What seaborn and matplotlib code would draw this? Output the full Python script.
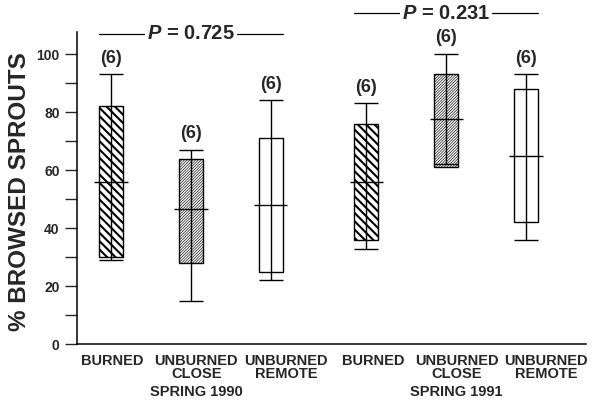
import matplotlib
matplotlib.use("Agg")
import numpy as np
import pandas as pd
import seaborn as sns
import matplotlib.pyplot as plt
import matplotlib.transforms as mtransforms
from matplotlib.ticker import MultipleLocator

# ---------------- data ----------------
treatments = ["BURNED", "UNBURNED\nCLOSE", "UNBURNED\nREMOTE"]
seasons = ["SPRING 1990", "SPRING 1991"]
whisker_low = [29, 15, 22, 33, 62, 36]
box_low = [30, 28, 25, 36, 61, 42]
medians = [56, 46.5, 48, 56, 77.5, 65]
box_high = [82, 64, 71, 76, 93, 88]
whisker_high = [93, 67, 84, 83, 100, 93]
n_obs = [6, 6, 6, 6, 6, 6]
p_values = ["0.725", "0.231"]

# ---------------- layout / style ----------------
group_gap = 0.2
box_width = 0.3
median_width = 0.42
label_shift = [0.02, 0.07, 0.19, 0.09, 0.13, 0.25]
hatch_of = {"BURNED": "\\" * 4, "UNBURNED\nCLOSE": "/" * 12, "UNBURNED\nREMOTE": ""}
hatch_lw = {"BURNED": 1.5, "UNBURNED\nCLOSE": 0.45, "UNBURNED\nREMOTE": 0.5}

sns.set_style("ticks")
plt.rcParams["font.family"] = ["Liberation Sans", "DejaVu Sans"]
plt.rcParams["font.weight"] = "bold"
plt.rcParams["mathtext.fontset"] = "custom"
plt.rcParams["mathtext.bfit"] = "Liberation Sans:italic:bold"
plt.rcParams["mathtext.rm"] = "Liberation Sans:bold"
plt.rcParams["mathtext.it"] = "Liberation Sans:italic:bold"

labels = treatments * 2
positions = [g * (3 + group_gap) + i for g in range(2) for i in range(3)]

rows = []
for pos, lo, med, hi in zip(positions, box_low, medians, box_high):
    for v in (lo, lo, med, hi, hi):
        rows.append({"pos": pos, "value": v})
df = pd.DataFrame(rows)

fig = plt.figure(figsize=(5.95, 4.01), dpi=100)
ax = fig.add_axes([77 / 595, 1 - 344.3 / 401, (586 - 77) / 595, (344.3 - 32) / 401])

sns.boxplot(data=df, x="pos", y="value", native_scale=True, width=box_width,
            whis=0, showfliers=False, showcaps=False, color="white",
            linecolor="black", linewidth=1.0, medianprops={"visible": False}, ax=ax)

boxes = [p for p in ax.patches]
for patch, lab in zip(boxes, labels):
    patch.set_facecolor("white")
    patch.set_edgecolor("black")
    patch.set_hatch(hatch_of[lab])
    if hasattr(patch, "set_hatch_linewidth"):
        patch.set_hatch_linewidth(hatch_lw[lab])

pos = np.array(positions, dtype=float)
ax.vlines(pos, whisker_low, whisker_high, color="black", lw=1.0, zorder=4)
ax.hlines(whisker_high, pos - box_width / 2, pos + box_width / 2, color="black", lw=1.0, zorder=4)
ax.hlines(whisker_low, pos - box_width / 2, pos + box_width / 2, color="black", lw=1.0, zorder=4)
ax.hlines(medians, pos - median_width / 2, pos + median_width / 2, color="black", lw=1.0, zorder=4)

for x, top, n in zip(pos, whisker_high, n_obs):
    ax.annotate(f"({n})", (x, top), xytext=(0, 5.5), textcoords="offset points",
                ha="center", va="bottom", fontsize=13, fontweight="bold")

for g, pv in enumerate(p_values):
    gp = pos[3 * g:3 * g + 3]
    ytop = max(whisker_high[3 * g:3 * g + 3]) + 14
    ax.plot([gp[0] - box_width / 2, gp[-1] + box_width / 2], [ytop, ytop],
            color="black", lw=0.9, clip_on=False, zorder=5)
    ax.text(gp[1], ytop, r"$\mathbfit{P}$ = " + pv, ha="center", va="center",
            fontsize=14.5, fontweight="bold", clip_on=False, zorder=6,
            bbox=dict(facecolor="white", edgecolor="none", pad=1.5))

ax.set_xlim(-0.425, 5.95)
ax.set_ylim(0, 107.6)
ax.yaxis.set_major_locator(MultipleLocator(20))
ax.yaxis.set_minor_locator(MultipleLocator(10))
ax.tick_params(axis="y", which="both", length=8.6, width=1.0, pad=4, labelsize=10)
for t in ax.get_yticklabels():
    t.set_fontweight("bold")

tick_x = [p + s for p, s in zip(positions, label_shift)]
ax.set_xticks(tick_x)
ax.set_xticklabels(labels, fontweight="bold", fontsize=10.5, linespacing=0.92)
ax.tick_params(axis="x", length=0, pad=7)
ax.set_xlabel("")
ax.set_ylabel("")

trans = mtransforms.blended_transform_factory(ax.transData, ax.transAxes)
for g, s in enumerate(seasons):
    ax.text(tick_x[3 * g + 1], -0.153, s, transform=trans, ha="center", va="center",
            fontsize=10.5, fontweight="bold")

fig.text(19.5 / 595, 1 - 191.5 / 401, "% BROWSED SPROUTS", rotation=90,
         ha="center", va="center", fontsize=17.5, fontweight="bold")

sns.despine(ax=ax)
for sp in ("left", "bottom"):
    ax.spines[sp].set_linewidth(1.1)
    ax.spines[sp].set_color("black")

fig.savefig("out.png", dpi=100)
